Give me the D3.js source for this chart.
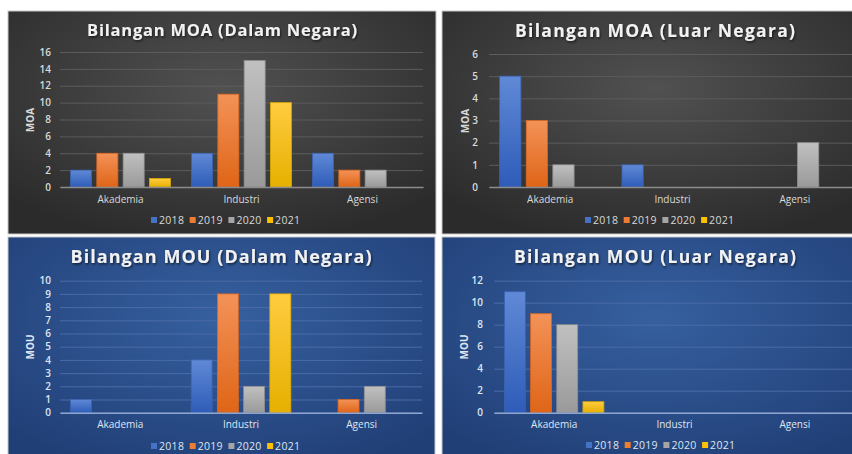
<!DOCTYPE html>
<html><head><meta charset="utf-8">
<script src="https://cdn.jsdelivr.net/npm/d3@7"></script>
<style>
html,body{margin:0;padding:0;background:#fff;}
svg{display:block;}
text{font-family:"Open Sans",sans-serif;}
</style></head>
<body>
<svg id="c" width="852" height="454"></svg>
<script>
// ---------- data ----------
const categories = ["Akademia", "Industri", "Agensi"];
const years = ["2018", "2019", "2020", "2021"];
// rows = categories, columns = years
const moaDalam = [[2, 4, 4, 1], [4, 11, 15, 10], [4, 2, 2, 0]];
const moaLuar  = [[5, 3, 1, 0], [1, 0, 0, 0], [0, 0, 2, 0]];
const mouDalam = [[1, 0, 0, 0], [4, 9, 2, 9], [0, 1, 2, 0]];
const mouLuar  = [[11, 9, 8, 1], [0, 0, 0, 0], [0, 0, 0, 0]];
const moaDalamTicks = [0, 2, 4, 6, 8, 10, 12, 14, 16];
const moaLuarTicks  = [0, 1, 2, 3, 4, 5, 6];
const mouDalamTicks = [0, 1, 2, 3, 4, 5, 6, 7, 8, 9, 10];
const mouLuarTicks  = [0, 2, 4, 6, 8, 10, 12];
const titles = ["Bilangan MOA (Dalam Negara)", "Bilangan MOA (Luar Negara)",
                "Bilangan MOU (Dalam Negara)", "Bilangan MOU (Luar Negara)"];
const axisTitles = ["MOA", "MOA", "MOU", "MOU"];

// ---------- styling / layout ----------
const yearColors = {
  "2018": ["#6089d6", "#2e5cb8", "#3a63b0", "#4472c4"],
  "2019": ["#f39258", "#df6517", "#d8661f", "#ed7d31"],
  "2020": ["#c0c0c0", "#9a9a9a", "#8e8e8e", "#a5a5a5"],
  "2021": ["#ffcc40", "#e6b000", "#d9a800", "#ffc000"]
};

const panels = [
  {data: moaDalam, ticks: moaDalamTicks, theme: "dark",
   box: [8, 11, 428, 223], plot: [60, 423, 187, 52], tickX: 51, axX: 30, axY: 120,
   titleX: 222, titleY: 36, titleSize: 16.5, titleW: 270, catY: 204, legX: 151, legY: 220},
  {data: moaLuar, ticks: moaLuarTicks, theme: "dark",
   box: [442, 11, 426, 223], plot: [489, 856, 187, 54], tickX: 478, axX: 465, axY: 121,
   titleX: 655, titleY: 37, titleSize: 17.5, titleW: 280, catY: 204, legX: 585, legY: 220},
  {data: mouDalam, ticks: mouDalamTicks, theme: "blue",
   box: [8, 237, 427, 230], plot: [60, 422, 412.7, 280.7], tickX: 51, axX: 30, axY: 347,
   titleX: 221, titleY: 263, titleSize: 18, titleW: 301, catY: 429, legX: 151, legY: 446},
  {data: mouLuar, ticks: mouLuarTicks, theme: "blue",
   box: [442, 237, 426, 230], plot: [494, 855, 412.7, 280.7], tickX: 483, axX: 464, axY: 347,
   titleX: 655, titleY: 263, titleSize: 17.5, titleW: 282, catY: 429, legX: 586, legY: 445}
];

const themes = {
  dark: {c0: "#515151", c1: "#2b2b2b", grid: "#5c5c5c", base: "#8c8c8c", text: "#d9d9d9"},
  blue: {c0: "#36609f", c1: "#213f77", grid: "#4a6ca6", base: "#8ea6cf", text: "#dfe6f2"}
};

const svg = d3.select("#c");
svg.append("rect").attr("width", 852).attr("height", 454).attr("fill", "#ffffff");
const defs = svg.append("defs");

Object.entries(themes).forEach(([k, t]) => {
  const g = defs.append("radialGradient").attr("id", "bg-" + k)
    .attr("cx", "50%").attr("cy", "35%").attr("r", "70%");
  g.append("stop").attr("offset", "0%").attr("stop-color", t.c0);
  g.append("stop").attr("offset", "100%").attr("stop-color", t.c1);
});
years.forEach(y => {
  const g = defs.append("linearGradient").attr("id", "bar-" + y)
    .attr("x1", 0).attr("y1", 0).attr("x2", 0).attr("y2", 1);
  g.append("stop").attr("offset", "0%").attr("stop-color", yearColors[y][0]);
  g.append("stop").attr("offset", "100%").attr("stop-color", yearColors[y][1]);
});
const sh = defs.append("filter").attr("id", "tshadow").attr("x", "-10%").attr("y", "-30%")
  .attr("width", "120%").attr("height", "160%");
sh.append("feDropShadow").attr("dx", 1).attr("dy", 1.5).attr("stdDeviation", 1)
  .attr("flood-color", "#000").attr("flood-opacity", 0.6);

panels.forEach((p, i) => {
  const t = themes[p.theme];
  const g = svg.append("g");
  const [bx, by, bw, bh] = p.box;
  g.append("rect").attr("x", bx).attr("y", by).attr("width", bw).attr("height", bh)
    .attr("fill", `url(#bg-${p.theme})`).attr("stroke", "#c8c8c8").attr("stroke-width", 1);

  const [x0, x1, y0, y1] = p.plot;
  const x = d3.scaleBand().domain(categories).range([x0, x1]).paddingInner(0).paddingOuter(0);
  const xs = d3.scaleBand().domain(years).range([0, x.bandwidth()]).paddingInner(0.2).paddingOuter(0.4);
  const y = d3.scaleLinear().domain([0, d3.max(p.ticks)]).range([y0, y1]);

  // gridlines
  const yAxis = d3.axisLeft(y).tickValues(p.ticks).tickSize(-(x1 - x0)).tickPadding(x0 - p.tickX)
    .tickFormat(d3.format("d"));
  const ya = g.append("g").attr("transform", `translate(${x0},0)`).call(yAxis);
  ya.select(".domain").remove();
  ya.selectAll(".tick line").attr("stroke", t.grid).attr("stroke-width", 1);
  ya.selectAll(".tick text").attr("fill", t.text).attr("font-size", 10).attr("font-weight", 600)
    .attr("font-family", "'Open Sans',sans-serif");

  // bars
  p.data.forEach((row, ci) => {
    row.forEach((v, yi) => {
      if (v <= 0) return;
      const yr = years[yi];
      g.append("rect")
        .attr("x", x(categories[ci]) + xs(yr))
        .attr("y", y(v))
        .attr("width", xs.bandwidth())
        .attr("height", y(0) - y(v))
        .attr("fill", `url(#bar-${yr})`)
        .attr("stroke", yearColors[yr][2]).attr("stroke-width", 0.8);
    });
  });

  // baseline
  const xAxis = d3.axisBottom(x).tickSize(0).tickPadding(p.catY - y0 - 8);
  const xa = g.append("g").attr("transform", `translate(0,${y0})`).call(xAxis);
  xa.select(".domain").attr("stroke", t.base).attr("stroke-width", 1.5);
  xa.selectAll(".tick text").attr("fill", t.text).attr("font-size", 10)
    .attr("font-family", "'Open Sans',sans-serif");

  // axis title
  g.append("text").attr("transform", `translate(${p.axX},${p.axY}) rotate(-90)`)
    .attr("text-anchor", "middle").attr("dy", "0.35em")
    .attr("fill", t.text).attr("font-size", 10).attr("font-weight", 700).text(axisTitles[i]);

  // title
  g.append("text").attr("x", p.titleX).attr("y", p.titleY).attr("text-anchor", "middle")
    .attr("font-size", p.titleSize).attr("font-weight", 700).attr("fill", "#f2f2f2")
    .attr("textLength", p.titleW).attr("lengthAdjust", "spacing")
    .attr("filter", "url(#tshadow)").text(titles[i]);

  // legend
  years.forEach((yr, k) => {
    const lx = p.legX + k * 38.7;
    g.append("rect").attr("x", lx).attr("y", p.legY - 3).attr("width", 6).attr("height", 6)
      .attr("fill", yearColors[yr][3]);
    g.append("text").attr("x", lx + 8).attr("y", p.legY).attr("dy", "0.35em")
      .attr("fill", t.text).attr("font-size", 10.5).attr("letter-spacing", 0.3).text(yr);
  });
});
</script>
</body></html>
